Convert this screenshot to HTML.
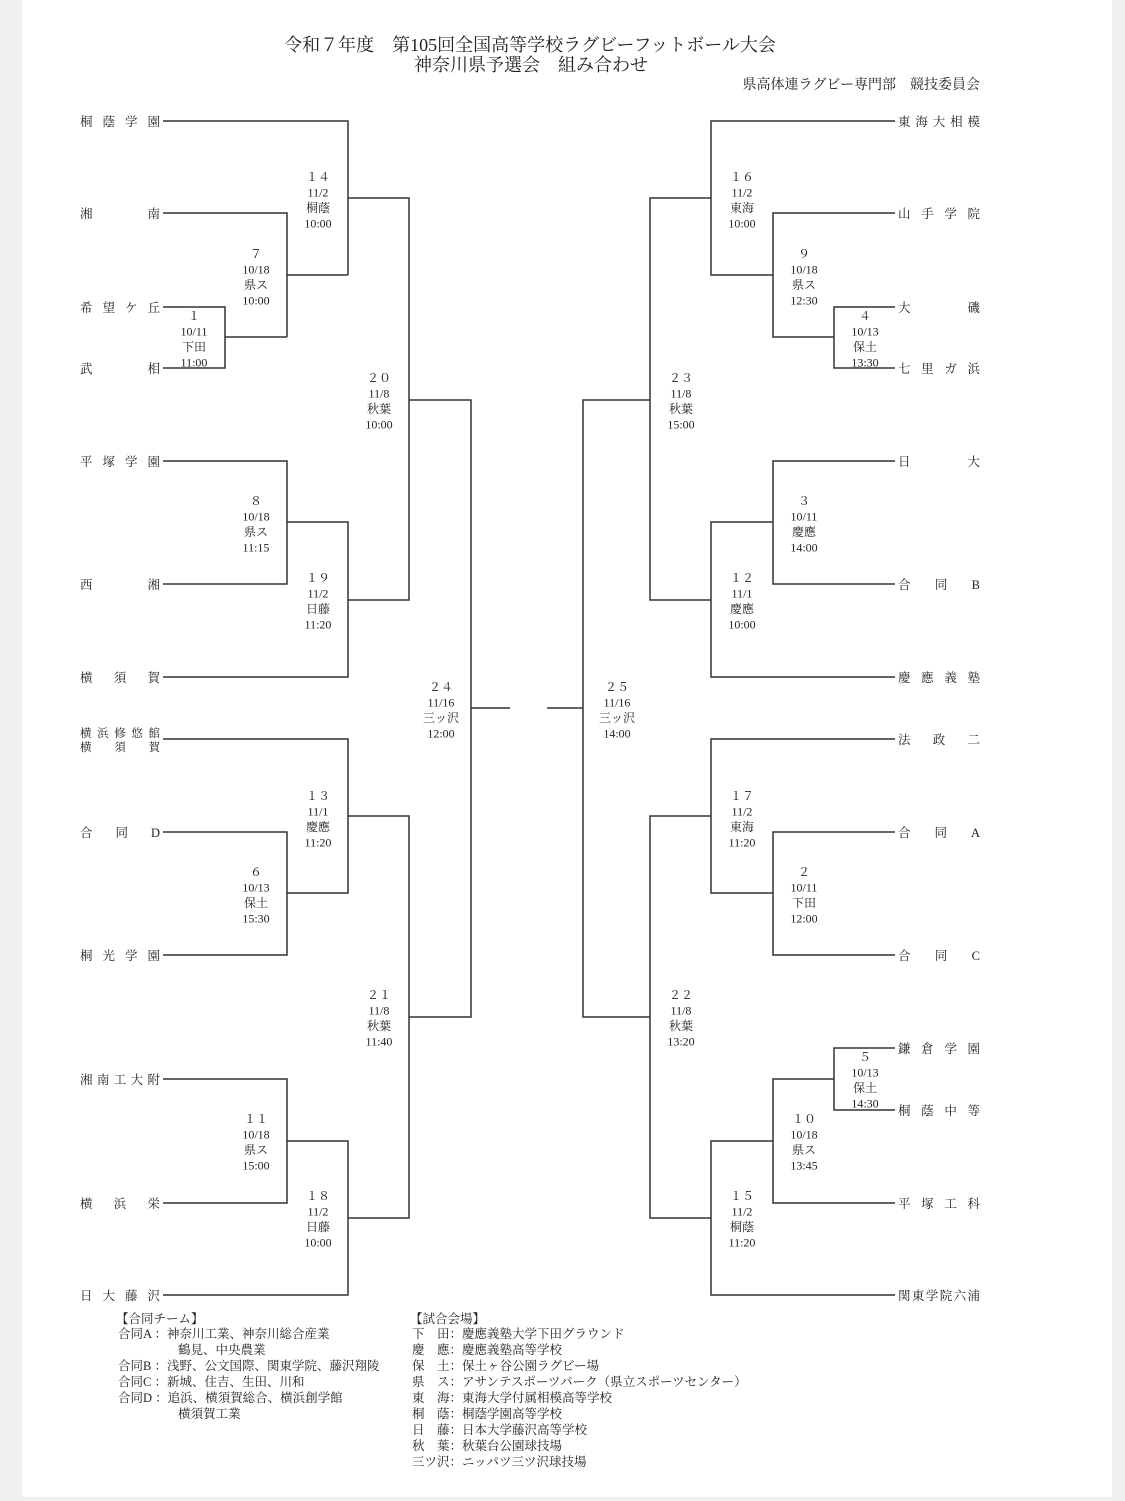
<!DOCTYPE html>
<html><head><meta charset="utf-8"><style>
html,body{margin:0;padding:0;background:#f0f0f3;}
svg{display:block;}
text{font-family:"Liberation Serif","Noto Serif CJK SC",serif;fill:#222;}
</style></head><body>
<svg width="1125" height="1501" viewBox="0 0 1125 1501" xmlns="http://www.w3.org/2000/svg">
<rect x="22" y="0" width="1090" height="1497" fill="#fff"/>
<g font-size="18" text-anchor="middle">
<text x="530" y="51">令和７年度　第105回全国高等学校ラグビーフットボール大会</text>
<text x="531" y="71">神奈川県予選会　組み合わせ</text>
</g>
<text x="980" y="89" font-size="14" text-anchor="end">県高体連ラグビー専門部　競技委員会</text>

<g stroke="#333" stroke-width="1.5" fill="none">
<path d="M163 121H348V275"/>
<path d="M163 213H287V337"/>
<path d="M163 307H225V368H163"/>
<path d="M225 337H287"/>
<path d="M287 275H348"/>
<path d="M348 198H409V600H348"/>
<path d="M163 461H287V584H163"/>
<path d="M287 522H348V677H163"/>
<path d="M409 400H471V1017H409"/>
<path d="M163 739H348V893H287"/>
<path d="M163 832H287V955H163"/>
<path d="M348 816H409V1218H348"/>
<path d="M163 1079H287V1203H163"/>
<path d="M287 1141H348V1295H163"/>
<path d="M471 708H510"/>
<path d="M895 121H711V275H773"/>
<path d="M895 213H773V337H834"/>
<path d="M895 307H834V368H895"/>
<path d="M711 198H650V600H711"/>
<path d="M895 461H773V584H895"/>
<path d="M773 522H711V677H895"/>
<path d="M650 400H583V1017H650"/>
<path d="M895 739H711V893H773"/>
<path d="M895 832H773V955H895"/>
<path d="M711 816H650V1218H711"/>
<path d="M895 1048H834V1110H895"/>
<path d="M834 1079H773V1203H895"/>
<path d="M773 1141H711V1295H895"/>
<path d="M547 708H583"/>
</g>

<g font-size="12.5">
<text x="80" y="126" textLength="80" lengthAdjust="spacing">桐蔭学園</text>
<text x="80" y="218" textLength="80" lengthAdjust="spacing">湘南</text>
<text x="80" y="312" textLength="80" lengthAdjust="spacing">希望ケ丘</text>
<text x="80" y="373" textLength="80" lengthAdjust="spacing">武相</text>
<text x="80" y="466" textLength="80" lengthAdjust="spacing">平塚学園</text>
<text x="80" y="589" textLength="80" lengthAdjust="spacing">西湘</text>
<text x="80" y="682" textLength="80" lengthAdjust="spacing">横須賀</text>
<text x="80" y="737" font-size="11.5" textLength="80" lengthAdjust="spacing">横浜修悠館</text>
<text x="80" y="751" font-size="11.5" textLength="80" lengthAdjust="spacing">横須賀</text>
<text x="80" y="837" textLength="80" lengthAdjust="spacing">合同D</text>
<text x="80" y="960" textLength="80" lengthAdjust="spacing">桐光学園</text>
<text x="80" y="1084" textLength="80" lengthAdjust="spacing">湘南工大附</text>
<text x="80" y="1208" textLength="80" lengthAdjust="spacing">横浜栄</text>
<text x="80" y="1300" textLength="80" lengthAdjust="spacing">日大藤沢</text>

<text x="898" y="126" textLength="82" lengthAdjust="spacing">東海大相模</text>
<text x="898" y="218" textLength="82" lengthAdjust="spacing">山手学院</text>
<text x="898" y="312" textLength="82" lengthAdjust="spacing">大磯</text>
<text x="898" y="373" textLength="82" lengthAdjust="spacing">七里ガ浜</text>
<text x="898" y="466" textLength="82" lengthAdjust="spacing">日大</text>
<text x="898" y="589" textLength="82" lengthAdjust="spacing">合同B</text>
<text x="898" y="682" textLength="82" lengthAdjust="spacing">慶應義塾</text>
<text x="898" y="744" textLength="82" lengthAdjust="spacing">法政二</text>
<text x="898" y="837" textLength="82" lengthAdjust="spacing">合同A</text>
<text x="898" y="960" textLength="82" lengthAdjust="spacing">合同C</text>
<text x="898" y="1053" textLength="82" lengthAdjust="spacing">鎌倉学園</text>
<text x="898" y="1115" textLength="82" lengthAdjust="spacing">桐蔭中等</text>
<text x="898" y="1208" textLength="82" lengthAdjust="spacing">平塚工科</text>
<text x="898" y="1300" textLength="82" lengthAdjust="spacing">関東学院六浦</text>
</g>

<g font-size="12" text-anchor="middle">
<text x="318" y="181">１４<tspan x="318" dy="15.5">11/2</tspan><tspan x="318" dy="15.5">桐蔭</tspan><tspan x="318" dy="15.5">10:00</tspan></text>
<text x="256" y="258">７<tspan x="256" dy="15.5">10/18</tspan><tspan x="256" dy="15.5">県ス</tspan><tspan x="256" dy="15.5">10:00</tspan></text>
<text x="194" y="320">１<tspan x="194" dy="15.5">10/11</tspan><tspan x="194" dy="15.5">下田</tspan><tspan x="194" dy="15.5">11:00</tspan></text>
<text x="379" y="382">２０<tspan x="379" dy="15.5">11/8</tspan><tspan x="379" dy="15.5">秋葉</tspan><tspan x="379" dy="15.5">10:00</tspan></text>
<text x="256" y="505">８<tspan x="256" dy="15.5">10/18</tspan><tspan x="256" dy="15.5">県ス</tspan><tspan x="256" dy="15.5">11:15</tspan></text>
<text x="318" y="582">１９<tspan x="318" dy="15.5">11/2</tspan><tspan x="318" dy="15.5">日藤</tspan><tspan x="318" dy="15.5">11:20</tspan></text>
<text x="441" y="691">２４<tspan x="441" dy="15.5">11/16</tspan><tspan x="441" dy="15.5">三ッ沢</tspan><tspan x="441" dy="15.5">12:00</tspan></text>
<text x="318" y="800">１３<tspan x="318" dy="15.5">11/1</tspan><tspan x="318" dy="15.5">慶應</tspan><tspan x="318" dy="15.5">11:20</tspan></text>
<text x="256" y="876">６<tspan x="256" dy="15.5">10/13</tspan><tspan x="256" dy="15.5">保土</tspan><tspan x="256" dy="15.5">15:30</tspan></text>
<text x="379" y="999">２１<tspan x="379" dy="15.5">11/8</tspan><tspan x="379" dy="15.5">秋葉</tspan><tspan x="379" dy="15.5">11:40</tspan></text>
<text x="256" y="1123">１１<tspan x="256" dy="15.5">10/18</tspan><tspan x="256" dy="15.5">県ス</tspan><tspan x="256" dy="15.5">15:00</tspan></text>
<text x="318" y="1200">１８<tspan x="318" dy="15.5">11/2</tspan><tspan x="318" dy="15.5">日藤</tspan><tspan x="318" dy="15.5">10:00</tspan></text>

<text x="742" y="181">１６<tspan x="742" dy="15.5">11/2</tspan><tspan x="742" dy="15.5">東海</tspan><tspan x="742" dy="15.5">10:00</tspan></text>
<text x="804" y="258">９<tspan x="804" dy="15.5">10/18</tspan><tspan x="804" dy="15.5">県ス</tspan><tspan x="804" dy="15.5">12:30</tspan></text>
<text x="865" y="320">４<tspan x="865" dy="15.5">10/13</tspan><tspan x="865" dy="15.5">保土</tspan><tspan x="865" dy="15.5">13:30</tspan></text>
<text x="681" y="382">２３<tspan x="681" dy="15.5">11/8</tspan><tspan x="681" dy="15.5">秋葉</tspan><tspan x="681" dy="15.5">15:00</tspan></text>
<text x="804" y="505">３<tspan x="804" dy="15.5">10/11</tspan><tspan x="804" dy="15.5">慶應</tspan><tspan x="804" dy="15.5">14:00</tspan></text>
<text x="742" y="582">１２<tspan x="742" dy="15.5">11/1</tspan><tspan x="742" dy="15.5">慶應</tspan><tspan x="742" dy="15.5">10:00</tspan></text>
<text x="617" y="691">２５<tspan x="617" dy="15.5">11/16</tspan><tspan x="617" dy="15.5">三ッ沢</tspan><tspan x="617" dy="15.5">14:00</tspan></text>
<text x="742" y="800">１７<tspan x="742" dy="15.5">11/2</tspan><tspan x="742" dy="15.5">東海</tspan><tspan x="742" dy="15.5">11:20</tspan></text>
<text x="804" y="876">２<tspan x="804" dy="15.5">10/11</tspan><tspan x="804" dy="15.5">下田</tspan><tspan x="804" dy="15.5">12:00</tspan></text>
<text x="681" y="999">２２<tspan x="681" dy="15.5">11/8</tspan><tspan x="681" dy="15.5">秋葉</tspan><tspan x="681" dy="15.5">13:20</tspan></text>
<text x="865" y="1061">５<tspan x="865" dy="15.5">10/13</tspan><tspan x="865" dy="15.5">保土</tspan><tspan x="865" dy="15.5">14:30</tspan></text>
<text x="804" y="1123">１０<tspan x="804" dy="15.5">10/18</tspan><tspan x="804" dy="15.5">県ス</tspan><tspan x="804" dy="15.5">13:45</tspan></text>
<text x="742" y="1200">１５<tspan x="742" dy="15.5">11/2</tspan><tspan x="742" dy="15.5">桐蔭</tspan><tspan x="742" dy="15.5">11:20</tspan></text>
</g>

<g font-size="12.5">
<text x="116" y="1323">【合同チーム】</text>
<text x="118" y="1338">合同A ：神奈川工業、神奈川総合産業</text>
<text x="178" y="1354">鶴見、中央農業</text>
<text x="118" y="1370">合同B ：浅野、公文国際、関東学院、藤沢翔陵</text>
<text x="118" y="1386">合同C ：新城、住吉、生田、川和</text>
<text x="118" y="1402">合同D ：追浜、横須賀総合、横浜創学館</text>
<text x="178" y="1418">横須賀工業</text>

<text x="410" y="1323">【試合会場】</text>
<text x="412" y="1338">下　田：慶應義塾大学下田グラウンド</text>
<text x="412" y="1354">慶　應：慶應義塾高等学校</text>
<text x="412" y="1370">保　土：保土ヶ谷公園ラグビー場</text>
<text x="412" y="1386">県　ス：アサンテスポーツパーク（県立スポーツセンター）</text>
<text x="412" y="1402">東　海：東海大学付属相模高等学校</text>
<text x="412" y="1418">桐　蔭：桐蔭学園高等学校</text>
<text x="412" y="1434">日　藤：日本大学藤沢高等学校</text>
<text x="412" y="1450">秋　葉：秋葉台公園球技場</text>
<text x="412" y="1466">三ツ沢：ニッパツ三ツ沢球技場</text>
</g>
</svg>
</body></html>
